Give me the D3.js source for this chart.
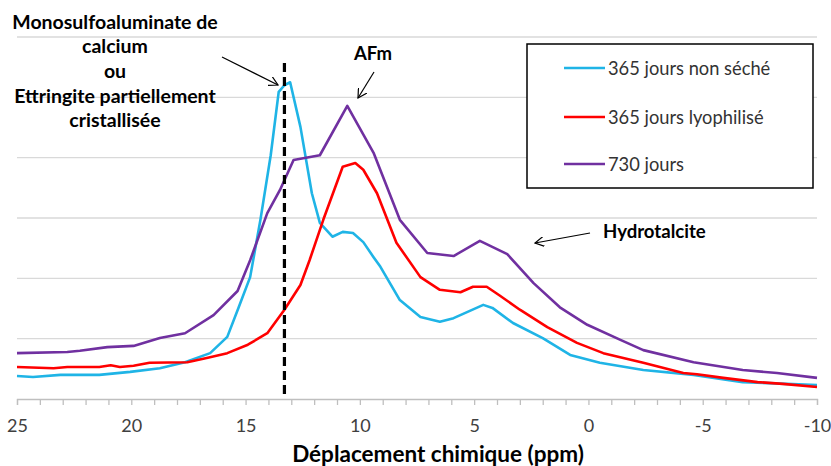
<!DOCTYPE html>
<html><head><meta charset="utf-8">
<script src="https://cdn.jsdelivr.net/npm/d3@7"></script>
<style>body{margin:0;background:#fff;} svg{display:block;}</style>
</head><body><svg id="c" width="831" height="466"></svg>
<script>
const seriesNames = ["365 jours non séché", "365 jours lyophilisé", "730 jours"];
const seriesColors = ["#1FB4E6", "#FF0000", "#7030A0"];

const bluePpm = [25,24.3,23.1,21.4,20.05,18.75,17.65,16.55,15.8,15.3,14.8,14.35,13.9,13.55,13.3,13.05,12.6,12.1,11.75,11.2,10.75,10.3,9.85,9.4,9.1,8.25,7.35,6.5,5.9,4.6,4.2,3.3,2.0,0.8,-0.5,-2.4,-4.6,-6.75,-10];
const blueVal = [3.8,3.65,4.0,4.0,4.5,5.1,6.1,7.6,10.3,15.2,20.2,29.7,40.4,50.9,52.0,52.5,45.1,34.1,29.2,26.9,27.7,27.5,26.0,23.5,21.9,16.4,13.6,12.8,13.4,15.6,15.1,12.6,10.1,7.3,6.0,4.8,4.0,2.8,2.3];

const redPpm = [25,23.4,22.8,21.4,20.9,20.5,19.9,19.2,17.55,16.7,15.8,14.9,14.05,13.3,12.6,12.2,11.6,10.75,10.2,9.85,9.25,8.4,7.35,6.5,5.6,5.05,4.45,3.9,3.0,1.8,0.5,-0.65,-2.4,-4.15,-4.75,-5.9,-7.4,-8.5,-10];
const redVal = [5.3,5.1,5.3,5.3,5.6,5.3,5.5,6.0,6.1,6.8,7.6,9.0,10.9,14.8,18.9,23.0,29.7,38.5,39.1,38.0,34.1,25.9,20.2,18.1,17.7,18.6,18.6,17.2,14.8,11.9,9.3,7.6,6.0,4.3,4.1,3.5,2.8,2.5,2.0];

const purplePpm = [25,22.8,22.25,21.05,19.9,18.75,17.65,16.4,15.35,14.8,14.05,13.5,12.9,11.75,10.55,9.4,8.25,7.05,5.9,4.75,3.55,2.4,1.25,0.05,-1.4,-2.4,-4.6,-6.75,-8.25,-10];
const purpleVal = [7.6,7.8,8.0,8.6,8.8,10.1,10.9,13.9,17.9,23.0,30.8,34.6,39.6,40.4,48.6,40.8,29.7,24.2,23.7,26.2,24.0,19.2,15.2,12.3,9.8,8.1,6.1,4.8,4.3,3.5];

const xTickValues = [25,20,15,10,5,0,-5,-10];
const yGridValues = [10,20,30,40,50,60];
const markerPpm = 13.3;
const xTitle = "Déplacement chimique (ppm)";
const annoMono = ["Monosulfoaluminate de","calcium","ou","Ettringite partiellement","cristallisée"];
const annoAFm = "AFm";
const annoHydro = "Hydrotalcite";

const svg = d3.select("#c");
const L = 17, R = 817, T = 37, B = 399;
const x = d3.scaleLinear().domain([25,-10]).range([L,R]);
const y = d3.scaleLinear().domain([0,60]).range([B,T]);

// gridlines
svg.append("g").selectAll("line").data(yGridValues).join("line")
  .attr("x1",L).attr("x2",R).attr("y1",d=>y(d)).attr("y2",d=>y(d))
  .attr("stroke","#d9d9d9").attr("stroke-width",1.3);

// x axis
const axisG = svg.append("g").attr("transform",`translate(0,${B})`);
axisG.call(d3.axisBottom(x).tickValues(d3.range(25,-10.5,-1)).tickSize(6).tickFormat(""));
axisG.select(".domain").attr("stroke","#bfbfbf").attr("stroke-width",1.3);
axisG.selectAll(".tick line").attr("stroke","#bfbfbf").attr("stroke-width",1.3);
const labG = svg.append("g").attr("transform",`translate(0,${B})`);
labG.call(d3.axisBottom(x).tickValues(xTickValues).tickSize(0).tickPadding(0).tickFormat(d=>String(d)));
labG.select(".domain").remove();
labG.selectAll("text").attr("font-family","Lato, 'Open Sans', sans-serif").attr("font-size",18)
  .attr("fill","#404040").attr("dy",0).attr("y",33);

// series
const data = [
  bluePpm.map((p,i)=>[p,blueVal[i]]),
  redPpm.map((p,i)=>[p,redVal[i]]),
  purplePpm.map((p,i)=>[p,purpleVal[i]])
];
const line = d3.line().x(d=>x(d[0])).y(d=>y(d[1]));
[0,1,2].forEach(i=>{
  svg.append("path").datum(data[i]).attr("d",line).attr("fill","none")
    .attr("stroke",seriesColors[i]).attr("stroke-width",2.6).attr("stroke-linejoin","round");
});

// dashed marker line
svg.append("line").attr("x1",x(markerPpm)).attr("x2",x(markerPpm)).attr("y1",63).attr("y2",B)
  .attr("stroke","#000").attr("stroke-width",3.2).attr("stroke-dasharray","9,5");

// legend
const lg = svg.append("g");
lg.append("rect").attr("x",527).attr("y",44).attr("width",286).attr("height",144)
  .attr("fill","#fff").attr("stroke","#000").attr("stroke-width",1.5);
const legY = [68,117,164];
seriesNames.forEach((n,i)=>{
  lg.append("line").attr("x1",564).attr("x2",605).attr("y1",legY[i]).attr("y2",legY[i])
    .attr("stroke",seriesColors[i]).attr("stroke-width",2.6);
  lg.append("text").attr("x",608).attr("y",legY[i]+6.5).text(n)
    .attr("font-family","Lato, 'Open Sans', sans-serif").attr("font-size",18.3).attr("fill","#333");
});

// arrowheads
const defs = svg.append("defs");
defs.append("marker").attr("id","arr").attr("viewBox","0 0 10 10").attr("refX",9).attr("refY",5)
  .attr("markerWidth",10).attr("markerHeight",10).attr("markerUnits","userSpaceOnUse").attr("orient","auto")
  .append("path").attr("d","M0,0 L9,5 L0,10").attr("fill","none").attr("stroke","#000").attr("stroke-width",1.2);

function arrow(x1,y1,x2,y2){
  svg.append("line").attr("x1",x1).attr("y1",y1).attr("x2",x2).attr("y2",y2)
    .attr("stroke","#000").attr("stroke-width",1.2).attr("marker-end","url(#arr)");
}
arrow(222,57,278,85);
arrow(374,72,358,98);
arrow(590,233,535,243);

const boldFont = "Lato, 'Open Sans', sans-serif";
const monoY = [29,53,78,103,127];
annoMono.forEach((t,i)=>{
  svg.append("text").attr("x",115).attr("y",monoY[i]).attr("text-anchor","middle").text(t)
    .attr("font-family",boldFont).attr("font-weight","bold").attr("font-size",19.5).attr("fill","#000");
});
svg.append("text").attr("x",373).attr("y",60).attr("text-anchor","middle").text(annoAFm)
  .attr("font-family",boldFont).attr("font-weight","bold").attr("font-size",18.5);
svg.append("text").attr("x",603).attr("y",238).text(annoHydro)
  .attr("font-family",boldFont).attr("font-weight","bold").attr("font-size",18.6);

svg.append("text").attr("x",438).attr("y",462).attr("text-anchor","middle").text(xTitle)
  .attr("font-family",boldFont).attr("font-weight","bold").attr("font-size",22.5);
</script></body></html>
